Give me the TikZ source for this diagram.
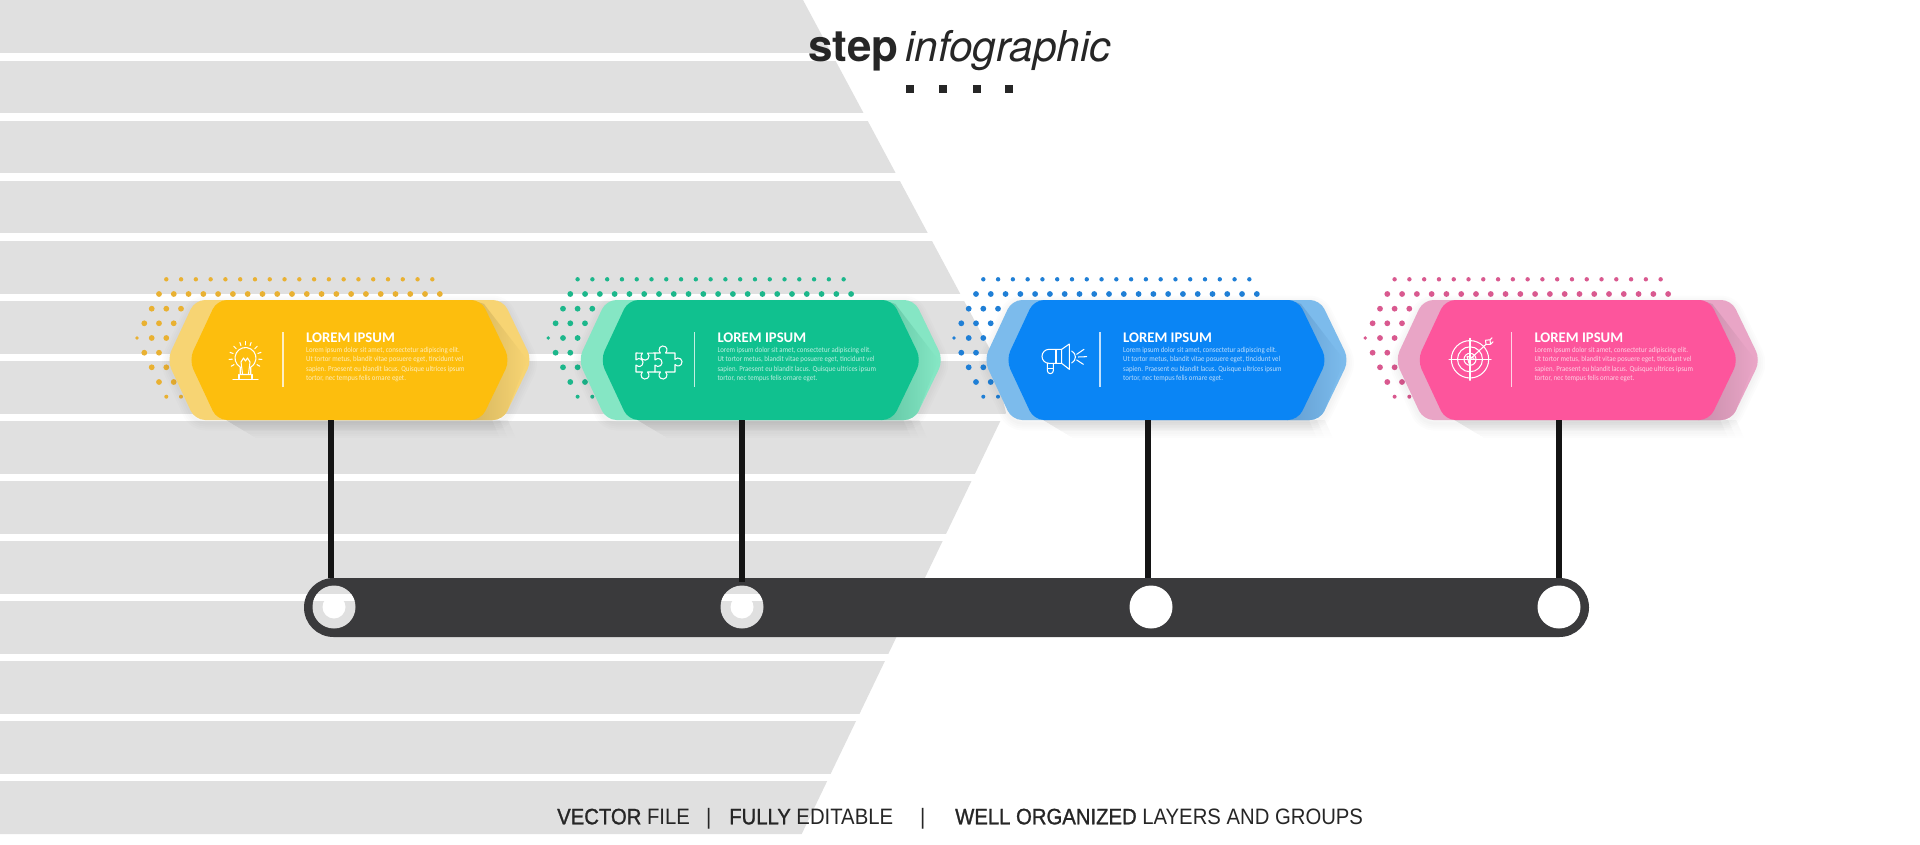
\documentclass[tikz,border=0pt]{standalone}
\usepackage{fontspec}
\usetikzlibrary{shapes.misc,fadings}
\setmainfont{Liberation Sans}
\newfontfamily\cardfont{Carlito}
\newfontfamily\cardbodyfont[FakeStretch=0.9]{Carlito}
\newfontfamily\titlefont{TeX Gyre Heros}
\newfontfamily\botfont[FakeStretch=0.91]{Liberation Sans}
\newfontfamily\botbold[FakeStretch=0.91,FakeBold=1.2]{Liberation Sans}
\definecolor{bggray}{HTML}{E0E0E0}
\definecolor{barcol}{HTML}{3A3A3C}
\definecolor{conncol}{HTML}{141414}
\definecolor{inkcol}{HTML}{262626}
\definecolor{yM}{HTML}{FDBE0D}\definecolor{yB}{HTML}{F7D473}\definecolor{yS}{HTML}{D6B65F}\definecolor{yD}{HTML}{E9B132}
\definecolor{gM}{HTML}{10C18F}\definecolor{gB}{HTML}{85E6C4}\definecolor{gS}{HTML}{62C6A4}\definecolor{gD}{HTML}{1CB78B}
\definecolor{bM}{HTML}{0A85F5}\definecolor{bB}{HTML}{7CBBEC}\definecolor{bS}{HTML}{649FD2}\definecolor{bD}{HTML}{1F7FD6}
\definecolor{pM}{HTML}{FD559C}\definecolor{pB}{HTML}{E9A5C6}\definecolor{pS}{HTML}{C98FAC}\definecolor{pD}{HTML}{D9598F}
\tikzset{
  x=1pt,y=-1pt,
  conn/.style={draw=conncol,line width=5.5pt},
  iconline/.style={draw=white,line width=1.05pt,line join=round,line cap=round},
  cardhead/.style={font=\cardfont\bfseries\fontsize{14.7}{16}\selectfont,text=white,inner sep=0pt,anchor=base west},
  cardbody/.style={font=\cardbodyfont\fontsize{7.6}{9.3}\selectfont,text=white,text opacity=.72,inner sep=0pt,anchor=north west,align=left},
  hit/.style={inner sep=0pt,minimum width=317pt,minimum height=120pt},
  hole/.style={circle,inner sep=0pt,minimum size=43pt},
  bottext/.style={inner sep=0pt,anchor=base west,text=inkcol},
}
\newcommand{\backhex}{(167,360) -- (195,300) -- (503,300) -- (532,360) -- (503,420) -- (195,420) -- cycle}
\newcommand{\mainhex}{(189,360) -- (217,300) -- (481,300) -- (510,360) -- (481,420) -- (217,420) -- cycle}
\begin{document}
\begin{tikzpicture}
\useasboundingbox (0,0) rectangle (1920,845);
\fill[white] (0,0) rectangle (1920,845);
% striped background
\fill[bggray] (0,0) -- (803,0) -- (993,355) -- (1006,413) -- (1000,421.7) -- (801.7,834) -- (0,834) -- cycle;
\foreach \k in {0,...,12}
  \fill[white] (0,{53.5+60*\k}) rectangle (1040,{61+60*\k});
% cards
\foreach \dx/\cm/\cb/\cs/\cd/\n in {0/yM/yB/yS/yD/1,411.3/gM/gB/gS/gD/2,817/bM/bB/bS/bD/3,1228.3/pM/pB/pS/pD/4}{
\begin{scope}[shift={(\dx,0)}]
  % dots
  \foreach \i in {0,...,18} \fill[\cd] ({166.3+14.78*\i},279.3) circle[radius=2.2];
  \foreach \i in {0,...,19} \fill[\cd] ({159+14.78*\i},294) circle[radius=2.9];
  \foreach \a/\b/\r in {151.7/308.7/2.9,166.3/308.7/2.9,181/308.7/2.9,144.3/323.3/2.9,159/323.3/2.9,173.7/323.3/2.9,137/338/1.9,151.7/338/2.9,166.3/338/2.9,144.3/352.7/2.9,159/352.7/2.9,151.7/367.3/2.9,166.3/367.3/2.9,159/382/2.9,173.7/382/2.9,166.3/396.7/2,181/396.7/2}
    \fill[\cd] (\a,\b) circle[radius=\r];
  % soft outer shadow
  \foreach \w in {3,7,11,15}
    \draw[black,opacity=.012,line width=\w pt,rounded corners=10pt,line join=round] ([shift={(0,3)}]167,360) -- (195,303) -- (503,303) -- (532,363) -- (503,423) -- (195,423) -- cycle;
  % long shadow under the card
  \foreach \e in {0,8,16}
    \fill[black,opacity=.035,path fading=south] (226,420) -- (256,438) -- ({500+\e},438) -- ({492+\e},420) -- cycle;
  % back and main plates
  \fill[\cb,rounded corners=10pt] \backhex;
  \begin{scope}
    \clip[rounded corners=10pt] \backhex;
    \shade[left color=\cs,right color=\cb] (472,300) -- (484,304) -- (527,360) -- (503,422) -- (470,422) -- cycle;
  \end{scope}
  \fill[\cm,rounded corners=10pt] \mainhex;
  \node[hit] (card\n) at (349.5,360) {};
  \draw[white,opacity=.75,line width=1.1pt] (283,332) -- (283,387);
  \node[cardhead] (head\n) at (306,342.3) {LOREM IPSUM};
  \node[cardbody] (body\n) at (306,347.2) {Lorem ipsum dolor sit amet, consectetur adipiscing elit.\\Ut tortor metus, blandit vitae posuere eget, tincidunt vel\\sapien. Praesent eu blandit lacus. Quisque ultrices ipsum\\tortor, nec tempus felis ornare eget.};
\end{scope}
}
% bulb icon
\begin{scope}[shift={(245.5,358)}]
  \draw[iconline] (-5.25,9.1) arc[start angle=120,end angle=420,radius=10.5] -- (5.25,16.5) -- (-5.25,16.5) -- cycle;
  \draw[iconline] (-3,16) -- (-4.5,4) -- (-2,0) -- (0,3) -- (2,0) -- (4.5,4) -- (3,16);
  \draw[iconline] (-6.5,16.5) -- (-6.5,20.5) (6.5,16.5) -- (6.5,20.5);
  \draw[iconline] (-12.5,21.3) -- (12.5,21.3);
  \foreach \t in {150,175,200,225,250,270,290,315,340,365,390}
    \draw[iconline] ({13.2*cos(\t)},{13.2*sin(\t)}) -- ({16.5*cos(\t)},{16.5*sin(\t)});
\end{scope}
% puzzle icon
\draw[iconline] (655,353) -- (647.6,353.1) arc[start angle=-50,end angle=230,radius=4] -- (636,353) -- (636,359.9) arc[start angle=220,end angle=500,radius=4] -- (636,372) -- (642.4,372) arc[start angle=230,end angle=-50,radius=4] -- (655,372) -- (655,365.1) arc[start angle=140,end angle=-140,radius=4] -- cycle;
\draw[iconline] (655,353) -- (660.4,353) arc[start angle=130,end angle=410,radius=4] -- (675,353) -- (675,359.4) arc[start angle=220,end angle=500,radius=4] -- (675,372) -- (665.6,372) arc[start angle=-50,end angle=230,radius=4] -- (655,372);
% megaphone icon
\begin{scope}[shift={(1030,330)},scale=1/3]
  \draw[iconline] (95,58) -- (57,58) arc[start angle=270,end angle=90,radius=21] -- (95,100);
  \draw[iconline] (95,58) -- (118,42) -- (118,118) -- (95,100) -- cycle;
  \draw[iconline] (78,60) -- (78,98);
  \draw[iconline] (125,63) .. controls (140,70) and (140,92) .. (125,99);
  \draw[iconline] (52,100) -- (52,122) arc[start angle=180,end angle=0,radius=9] -- (70,100);
  \draw[iconline] (52,116) -- (70,116);
  \draw[iconline] (140,73) -- (162,58) (145,81) -- (170,80) (140,90) -- (160,103);
\end{scope}
% target icon
\begin{scope}[shift={(1470,359.3)}]
  \draw[iconline] (0,0) circle[radius=18.7] (0,0) circle[radius=12.5] (0,0) circle[radius=6];
  \draw[iconline] (-21,0) -- (21,0) (0,-21) -- (0,21);
  \draw[iconline] (0,0) -- (16,-15) (-3,-3) -- (-1,4) (-3,-3) -- (4,-1);
  \draw[iconline] (16,-15) -- (15.5,-19) -- (20,-19.5) -- (20.5,-15) (16,-15) -- (20.5,-15) -- (23,-17.5) (20,-19.5) -- (22,-21.5);
\end{scope}
% timeline bar
\node[rounded rectangle,fill=barcol,inner sep=0pt,minimum width=1285pt,minimum height=59pt] (bar) at (946.5,607.5) {};
\node[hole,fill=bggray] (hole1) at (334,607) {};
\node[hole,fill=bggray] (hole2) at (742,607) {};
\foreach \h in {hole1,hole2}{
  \begin{scope}
    \clip (\h) circle[radius=21.5];
    \fill[white] ([shift={(-25,-13)}]\h) rectangle ([shift={(25,-6)}]\h);
  \end{scope}
  \fill[white] (\h) circle[radius=11.5];
}
\node[hole,fill=white] (hole3) at (1151,607) {};
\node[hole,fill=white] (hole4) at (1559,607) {};
% connectors
\coordinate (x1) at (331,0);
\coordinate (x2) at (742,0);
\coordinate (x3) at (1148,0);
\coordinate (x4) at (1559,0);
\draw[conn] (card1.south -| x1) -- (bar.north -| x1);
\draw[conn] (card2.south -| x2) -- ([yshift=-4pt]bar.north -| x2);
\draw[conn] (card3.south -| x3) -- (bar.north -| x3);
\draw[conn] (card4.south -| x4) -- (bar.north -| x4);
% title
\node[inner sep=0pt,anchor=base west,text=inkcol,font=\titlefont\bfseries\fontsize{44}{46}\selectfont] (titleA) at (808,62) {step};
\node[inner sep=0pt,anchor=base west,text=inkcol,font=\titlefont\itshape\fontsize{42.5}{46}\selectfont] (titleB) at (905,62) {infographic};
\foreach \s in {910,943,977,1009}
  \fill[inkcol] (\s-4.2,84.8) rectangle (\s+4.2,93.2);
% footer
\node[bottext,font=\botfont\fontsize{22.3}{24}\selectfont] (f1) at (557,824.3) {{\botbold VECTOR} FILE};
\node[bottext,font=\botfont\fontsize{22.3}{24}\selectfont] (f2) at (706,824.3) {|};
\node[bottext,font=\botfont\fontsize{22.3}{24}\selectfont] (f3) at (729,824.3) {{\botbold FULLY} EDITABLE};
\node[bottext,font=\botfont\fontsize{22.3}{24}\selectfont] (f4) at (920,824.3) {|};
\node[bottext,font=\botfont\fontsize{22.3}{24}\selectfont] (f5) at (955,824.3) {{\botbold WELL ORGANIZED} LAYERS AND GROUPS};
\end{tikzpicture}
\end{document}
